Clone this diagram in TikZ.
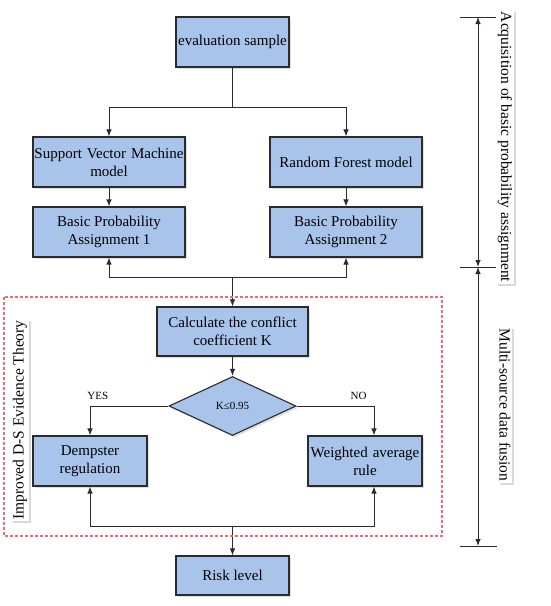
\documentclass[tikz,border=0pt]{standalone}
\usepackage{fontspec}
\setmainfont{Liberation Serif}
\usetikzlibrary{shapes.geometric,shadows,arrows.meta}
\definecolor{boxblue}{HTML}{A9C4EB}
\definecolor{edgegray}{HTML}{2B2B2B}
\definecolor{framered}{HTML}{F26B6B}
\begin{document}
\begin{tikzpicture}[x=1pt,y=-1pt,>={Latex[length=7pt,width=5.5pt]}]

			\tikzstyle{process}=[fill=boxblue,draw=edgegray,line width=1.1pt,
				inner sep=0pt,align=center,
				font=\fontsize{15}{18}\selectfont,
				drop shadow={opacity=0.25,shadow xshift=2pt,shadow yshift=-2pt}]
			\tikzstyle{decision}=[diamond,fill=boxblue,draw=edgegray,line width=1.1pt,
				inner sep=0pt,minimum width=127pt,minimum height=59pt,
				font=\fontsize{11}{13}\selectfont,
				drop shadow={opacity=0.25,shadow xshift=2pt,shadow yshift=-2pt}]
			\tikzstyle{sidelabel}=[fill=white,inner sep=1.5pt,
				font=\fontsize{15.5}{18}\selectfont,
				drop shadow={opacity=0.3,shadow xshift=2pt,shadow yshift=-2pt}]
			\tikzstyle{flow}=[draw=edgegray,line width=1pt]

			\useasboundingbox (0,0) rectangle (550,606);

			% flow chart
			\node[process,minimum width=113pt,minimum height=50pt]	(sample)	at (232.5,42)	{evaluation sample};
			\node[process,minimum width=152pt,minimum height=50pt,text width=150pt]	(svm)	at (109,162)	{Support Vector Machine\\model};
			\node[process,minimum width=152pt,minimum height=50pt]	(rf)	at (346,162)	{Random Forest model};
			\node[process,minimum width=152pt,minimum height=50pt]	(bpa1)	at (109,232)	{Basic Probability\\Assignment 1};
			\node[process,minimum width=152pt,minimum height=50pt]	(bpa2)	at (346,232)	{Basic Probability\\Assignment 2};
			\node[process,minimum width=151pt,minimum height=49pt]	(calc)	at (232.5,331.5)	{Calculate the conflict\\coefficient K};
			\node[decision]	(check)	at (232.5,406)	{K≤0.95};
			\node[process,minimum width=114pt,minimum height=50pt]	(dempster)	at (90,461)	{Dempster\\regulation};
			\node[process,minimum width=114pt,minimum height=50pt,text width=113pt]	(weighted)	at (365,461)	{Weighted average\\rule};
			\node[process,minimum width=113pt,minimum height=39pt]	(risk)	at (232.5,575.5)	{Risk level};

			\coordinate (split)	at (232.5,107);
			\coordinate (merge)	at (232.5,277);
			\coordinate (join)	at (232.5,526);

			\draw[flow] (sample) -- (split);
			\draw[flow,->] (split) -| (svm);
			\draw[flow,->] (split) -| (rf);
			\draw[flow,->] (svm) -- (bpa1);
			\draw[flow,->] (rf) -- (bpa2);
			\draw[flow,->] (merge) -| (bpa1);
			\draw[flow,->] (merge) -| (bpa2);
			\draw[flow,->] (merge) -- (calc);
			\draw[flow,->] (calc) -- (check);
			\draw[flow,->] (check.west) -| (dempster)
				node[pos=0.45,above=3pt,font=\fontsize{11}{13}\selectfont]{YES};
			\draw[flow,->] (check.east) -| ([xshift=9pt]weighted.north)
				node[pos=0.4,above=3pt,font=\fontsize{11}{13}\selectfont]{NO};
			\draw[flow,->] (join) -| (dempster);
			\draw[flow,->] (join) -| ([xshift=9pt]weighted.south);
			\draw[flow,->] (join) -- (risk);

			% improved D-S evidence theory frame
			\draw[framered,line width=1.3pt,dash pattern=on 3pt off 2pt]
				(4,297) rectangle (442,536);
			\node[sidelabel,rotate=90]	(dslabel)	at (20,420)	{Improved D-S Evidence Theory};

			% stage scale
			\coordinate (stagetop)	at (478,17);
			\coordinate (stagemid)	at (478,267);
			\coordinate (stagebot)	at (478,546);
			\draw[flow] ([xshift=-18pt]stagetop) -- ([xshift=19pt]stagetop);
			\draw[flow] ([xshift=-18pt]stagemid) -- ([xshift=19pt]stagemid);
			\draw[flow] ([xshift=-18pt]stagebot) -- ([xshift=19pt]stagebot);
			\draw[flow,<->] (stagetop) -- (stagemid);
			\draw[flow,<->] (stagemid) -- (stagebot);
			\node[sidelabel,rotate=-90]	(acqlabel)	at (505,147)	{Acquisition of basic probability assignment};
			\node[sidelabel,rotate=-90]	(fuselabel)	at (505,405)	{Multi-source data fusion};

		\end{tikzpicture}
\end{document}
